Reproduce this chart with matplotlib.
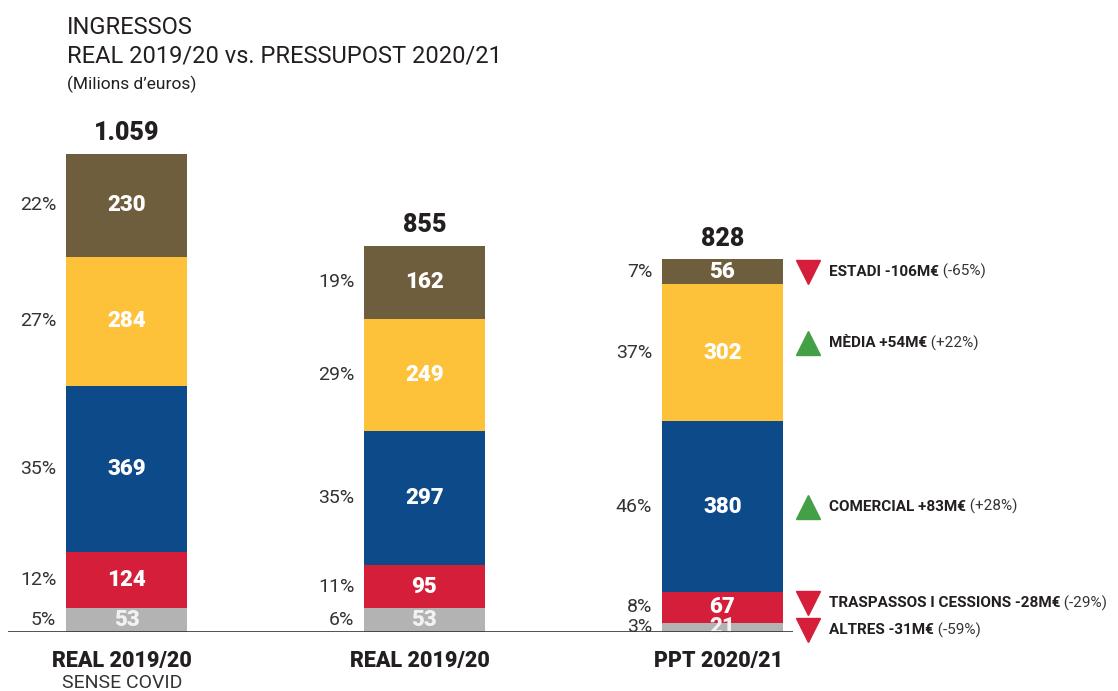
import numpy as np
import matplotlib
matplotlib.use('Agg')
import matplotlib.pyplot as plt

plt.rcParams['font.family'] = ['Roboto', 'DejaVu Sans']

# Dades (milions d'euros), de baix a dalt: altres, traspassos, comercial, mèdia, estadi
categories = ['REAL 2019/20', 'REAL 2019/20', 'PPT 2020/21']
subtitles = ['SENSE COVID', '', '']
totals = ['1.059', '855', '828']
altres = [53, 53, 21]
traspassos = [124, 95, 67]
comercial = [369, 297, 380]
media = [284, 249, 302]
estadi = [230, 162, 56]
pct_altres = ['5%', '6%', '3%']
pct_traspassos = ['12%', '11%', '8%']
pct_comercial = ['35%', '35%', '46%']
pct_media = ['27%', '29%', '37%']
pct_estadi = ['22%', '19%', '7%']
change_names = ['ALTRES -31M€', 'TRASPASSOS I CESSIONS -28M€', 'COMERCIAL +83M€',
                'MÈDIA +54M€', 'ESTADI -106M€']
change_pcts = ['(-59%)', '(-29%)', '(+28%)', '(+22%)', '(-65%)']
change_up = [False, False, True, True, False]

colors = ['#b3b3b3', '#d51f3a', '#0c4a8a', '#fec23a', '#6f5e3d']
val_colors = ['#f2f2f2', 'white', 'white', 'white', 'white']

segments = [altres, traspassos, comercial, media, estadi]
pcts = [pct_altres, pct_traspassos, pct_comercial, pct_media, pct_estadi]

fig = plt.figure(figsize=(11.18, 6.91), dpi=100)
# eixos: y=0 a 632 px des de dalt, 0.4514 px per milió; barres cada 298 px
px_per_unit = 0.4514
ymax = 1200
ax_h = ymax * px_per_unit / 691
ax = fig.add_axes([0, 59 / 691, 1, ax_h])
ax.set_xlim(-126.5 / 298, (1118 - 126.5) / 298)
ax.set_ylim(0, ymax)
ax.axis('off')

x = np.arange(len(categories))
width = 121 / 298
bottom = np.zeros(len(categories))
for seg, col, vcol, pct in zip(segments, colors, val_colors, pcts):
    seg = np.array(seg, dtype=float)
    ax.bar(x, seg, width, bottom=bottom, color=col, zorder=2)
    for i in range(len(x)):
        yc = bottom[i] + seg[i] / 2
        ax.text(x[i], yc, str(int(seg[i])), color=vcol, fontsize=16, fontweight='black',
                ha='center', va='center', zorder=3)
        ax.annotate(pct[i], (x[i] - width / 2, yc), xytext=(-7, 0), textcoords='offset points',
                    ha='right', va='center', fontsize=14, color='#333333')
    bottom += seg

# total a sobre de cada barra
for i in range(len(x)):
    ax.annotate(totals[i], (x[i], bottom[i]), xytext=(0, 6), textcoords='offset points',
                ha='center', va='bottom', fontsize=18, fontweight='black', color='#231f20')
    ax.annotate(categories[i], (x[i], 0), xytext=(-3, -21), textcoords='offset points',
                ha='center', va='center', fontsize=15.5, fontweight='black', color='#231f20')
    if subtitles[i]:
        ax.annotate(subtitles[i], (x[i], 0), xytext=(-3, -37), textcoords='offset points',
                    ha='center', va='center', fontsize=14, color='#333333')

ax.hlines(0, (8 - 126.5) / 298, (793 - 126.5) / 298, color='#333333', lw=1.2, zorder=4)

# variacions respecte a la temporada anterior
last = len(x) - 1
nudges = [-2, 3, 0, 7, 0]  # punts
bottom_last = 0
for k, seg in enumerate(segments):
    yc = bottom_last + seg[last] / 2
    bottom_last += seg[last]
    mk = '^' if change_up[k] else 'v'
    mc = '#43a047' if change_up[k] else '#d51f3a'
    xm = x[last] + width / 2
    ax.plot([xm + (808 - 783) / 298], [yc], marker=mk, color=mc, markersize=17,
            transform=ax.transData + matplotlib.transforms.ScaledTranslation(0, nudges[k] / 72, fig.dpi_scale_trans),
            clip_on=False, zorder=3, linestyle='none')
    t = ax.annotate(change_names[k], (xm, yc), xytext=(33, nudges[k]), textcoords='offset points',
                    ha='left', va='center', fontsize=11, fontweight='bold', color='#231f20')
    ax.annotate(' ' + change_pcts[k], xy=(1, 0.5), xycoords=t, ha='left', va='center',
                fontsize=11, color='#333333')

fig.text(67 / 1118, 1 - 28 / 691, 'INGRESSOS', fontsize=17, color='#231f20', va='center')
fig.text(67 / 1118, 1 - 56 / 691, 'REAL 2019/20 vs. PRESSUPOST 2020/21', fontsize=17,
         color='#231f20', va='center')
fig.text(67 / 1118, 1 - 84 / 691, '(Milions d\u2019euros)', fontsize=12.5, color='#231f20', va='center')

fig.savefig('out.png', dpi=100)
